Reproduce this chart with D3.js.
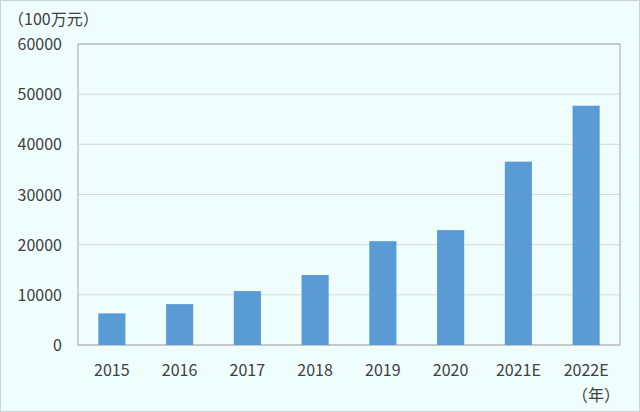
<!DOCTYPE html><html><head><meta charset="utf-8"><script src="https://cdn.jsdelivr.net/npm/d3@7"></script>
<style>body{margin:0}svg{display:block}</style></head><body><svg width="640" height="412"></svg><script>
const categories=["2015","2016","2017","2018","2019","2020","2021E","2022E"];
const values=[6300,8150,10750,13950,20700,22900,36550,47700];
const yTicks=[0,10000,20000,30000,40000,50000,60000];
const svg=d3.select("svg");
svg.append("rect").attr("x",0.5).attr("y",0.5).attr("width",639).attr("height",411).attr("fill","#effdfd").attr("stroke","#c8d4d4");
const x=d3.scaleBand().domain(categories).range([78,620]).paddingInner(0.6).paddingOuter(0.3);
const y=d3.scaleLinear().domain([0,60000]).range([345,44]);
const f="'Noto Sans CJK JP','Noto Sans',sans-serif";
svg.append("g").selectAll("line").data(yTicks).join("line").attr("x1",78).attr("x2",620).attr("y1",d=>y(d)).attr("y2",d=>y(d)).attr("stroke","#d9d9d9").attr("stroke-width",1);
svg.append("rect").attr("x",78).attr("y",44).attr("width",542).attr("height",301).attr("fill","none").attr("stroke","#a6a6a6");
svg.append("g").selectAll("rect").data(values).join("rect").attr("x",(d,i)=>x(categories[i])).attr("width",x.bandwidth()).attr("y",d=>y(d)).attr("height",d=>y(0)-y(d)).attr("fill","#5b9bd5");
svg.append("g").selectAll("text").data(yTicks).join("text").attr("x",62).attr("y",d=>y(d)+6).attr("text-anchor","end").attr("font-family",f).attr("font-size",16).attr("fill","#404040").text(d=>d);
svg.append("g").selectAll("text").data(categories).join("text").attr("x",d=>x(d)+x.bandwidth()/2).attr("y",376).attr("text-anchor","middle").attr("font-family",f).attr("font-size",16).attr("fill","#404040").text(d=>d);
svg.append("text").attr("x",8).attr("y",25).attr("font-family",f).attr("font-size",16).attr("fill","#404040").text("（100万元）");
svg.append("text").attr("x",620).attr("y",401).attr("text-anchor","end").attr("font-family",f).attr("font-size",16).attr("fill","#404040").text("（年）");
</script></body></html>
